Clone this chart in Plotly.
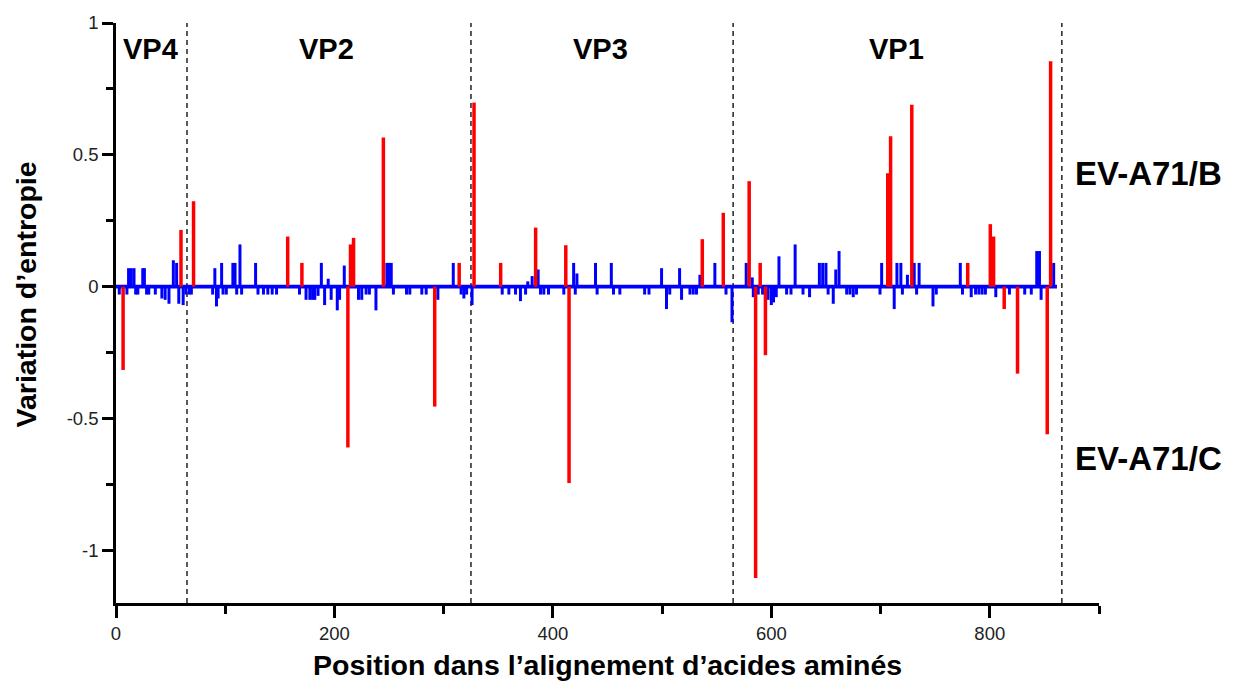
import plotly.graph_objects as go

# ---------------- data ----------------
blue_pos = [3, 10, 11.5, 14, 16.5, 18, 20, 24.5, 26, 28, 30, 36, 42, 45, 48.5, 52.5, 55.5, 57.5,
            61.5, 64, 67, 69, 88.5, 90.5, 92, 93.5, 96.7, 98, 101, 107, 109, 110.5, 113.5, 115,
            127.8, 130, 135, 139, 143, 147, 168, 174, 177.5, 180, 182, 185, 188, 191, 194.3, 197,
            202.6, 204.7, 209, 222, 225, 229, 232, 238, 248, 250, 252, 254, 266, 269, 280, 284,
            294.7, 308.8, 316, 318.5, 321, 326, 353.6, 359.7, 365.8, 370.3, 375, 377, 381, 386.5,
            388.7, 391.7, 396, 410, 419, 420.5, 422, 439, 440.5, 453.5, 455.5, 461.3, 484, 488,
            499.5, 504, 507, 516, 517.8, 525.5, 528.5, 531.5, 534.6, 548.3, 558.5, 564, 577, 582.5,
            583.5, 588, 592, 597, 600, 602, 604.5, 607, 614, 618, 621.8, 629, 635, 644, 647, 650,
            652, 656.7, 659, 662, 669, 672, 675, 678, 699.5, 701, 712.5, 715, 718.6, 720, 724.6,
            730.8, 733, 735.3, 748, 751, 773, 775, 783, 787, 790, 793, 796, 805.5, 818, 832, 838,
            843, 845.5, 847, 858.5]
blue_val = [-0.03, -0.03, 0.07, 0.07, 0.07, -0.03, -0.03, 0.07, 0.07, -0.03, -0.03, -0.03, -0.045,
            -0.05, -0.065, 0.10, 0.09, -0.065, -0.07, -0.03, -0.03, -0.03, -0.03, 0.07, -0.075,
            -0.045, 0.09, -0.03, -0.03, 0.09, 0.09, -0.03, 0.16, -0.03, 0.09, -0.03, -0.03, -0.03,
            -0.03, -0.03, -0.03, -0.05, -0.05, -0.05, -0.05, -0.035, 0.09, -0.07, 0.03, -0.05,
            -0.09, -0.05, 0.08, -0.05, -0.05, -0.03, -0.03, -0.09, 0.09, 0.09, 0.09, -0.03, -0.03,
            -0.03, -0.03, -0.03, -0.05, 0.09, -0.03, -0.045, -0.03, -0.07, -0.03, -0.03, -0.03,
            -0.055, -0.03, 0.02, 0.04, 0.065, -0.03, -0.03, -0.03, -0.03, 0.09, -0.03, 0.05, 0.09,
            -0.03, 0.09, -0.03, -0.03, -0.03, -0.03, 0.07, -0.085, -0.03, 0.07, -0.05, -0.03,
            -0.03, -0.03, 0.045, 0.09, -0.03, -0.135, 0.09, 0.035, -0.04, -0.03, -0.03, -0.05,
            -0.07, -0.06, -0.04, 0.115, -0.03, -0.03, 0.16, -0.03, -0.04, 0.09, 0.09, 0.09, -0.03,
            -0.065, 0.065, 0.135, -0.03, -0.03, -0.04, -0.03, -0.03, 0.09, -0.085, 0.09, 0.09,
            -0.03, 0.045, 0.09, -0.03, 0.09, -0.075, -0.03, 0.09, -0.03, -0.04, -0.03, -0.03,
            -0.03, -0.03, -0.04, -0.03, -0.03, -0.03, 0.135, 0.135, -0.05, 0.09]

red_pos = [6.5, 59.5, 71.0, 157.2, 170.2, 212.3, 214.7, 217.5, 244.8, 291.8, 314.2, 327.8, 352.2,
           384.2, 411.8, 414.8, 536.8, 556.0, 579.7, 585.6, 589.8, 594.6, 706.6, 709.2, 728.6,
           779.8, 800.5, 803.5, 813.2, 825.4, 852.6, 855.7]
red_val = [-0.316, 0.215, 0.324, 0.19, 0.09, -0.61, 0.16, 0.185, 0.566, -0.455, 0.09, 0.698, 0.09,
           0.224, 0.157, -0.745, 0.18, 0.28, 0.40, -1.105, 0.09, -0.26, 0.43, 0.57, 0.69, 0.09,
           0.237, 0.19, -0.085, -0.33, -0.56, 0.855]

baseline_x = [0, 861.5]
baseline_y = [0, 0]

region_bounds = [65, 325, 565, 866]
region_names = ["VP4", "VP2", "VP3", "VP1"]
region_label_x = [32, 193, 444, 715]

x_tick_vals = [0, 200, 400, 600, 800]
x_tick_text = ["0", "200", "400", "600", "800"]
x_minor_vals = [100, 300, 500, 700, 900]
y_tick_vals = [1, 0.5, 0, -0.5, -1]
y_tick_text = ["1", "0.5", "0", "-0.5", "-1"]
y_minor_vals = [0.75, 0.25, -0.25, -0.75]

group_labels = ["EV-A71/B", "EV-A71/C"]
group_label_y = [0.43, -0.65]

x_title = "Position dans l\u2019alignement d\u2019acides aminés"
y_title = "Variation d\u2019entropie"


def stems(pos, val):
    xs, ys = [], []
    for p, v in zip(pos, val):
        xs += [p, p, None]
        ys += [0, v, None]
    return xs, ys


FONT = "Liberation Sans, Arial, sans-serif"
BLUE = "#0000ff"
RED = "#ff0000"

fig = go.Figure()
fig.add_trace(go.Scatter(x=baseline_x, y=baseline_y, mode="lines",
                         line=dict(color=BLUE, width=3.8), hoverinfo="skip", showlegend=False))
bx, by = stems(blue_pos, blue_val)
fig.add_trace(go.Scatter(x=bx, y=by, mode="lines", line=dict(color=BLUE, width=3),
                         showlegend=False))
rx, ry = stems(red_pos, red_val)
fig.add_trace(go.Scatter(x=rx, y=ry, mode="lines", line=dict(color=RED, width=3.5),
                         showlegend=False))

for b in region_bounds:
    fig.add_shape(type="line", xref="x", yref="y", x0=b, x1=b, y0=-1.2, y1=1.0,
                  line=dict(color="black", width=1.3, dash="5px,4px"), layer="below")

for name, lx in zip(region_names, region_label_x):
    fig.add_annotation(x=lx, y=0.9, xref="x", yref="y", text="<b>%s</b>" % name,
                       showarrow=False, font=dict(family=FONT, size=29, color="black"))

for lab, ly in zip(group_labels, group_label_y):
    fig.add_annotation(x=1.05, y=ly, xref="paper", yref="y", text="<b>%s</b>" % lab,
                       showarrow=False, xanchor="center",
                       font=dict(family=FONT, size=33, color="black"))

fig.add_annotation(x=0.5, y=0, xref="paper", yref="paper", text="<b>%s</b>" % x_title,
                   showarrow=False, yanchor="middle", yshift=-62,
                   font=dict(family=FONT, size=28.5, color="black"))
fig.add_annotation(x=0, y=0.532, xref="paper", yref="paper", text="<b>%s</b>" % y_title,
                   showarrow=False, textangle=-90, xanchor="center", yanchor="middle",
                   xshift=-90, font=dict(family=FONT, size=28.5, color="black"))

fig.update_layout(
    width=1233, height=684,
    margin=dict(l=116, r=134, t=18, b=81),
    paper_bgcolor="white", plot_bgcolor="white",
    showlegend=False,
    font=dict(family=FONT, color="#222"),
    xaxis=dict(range=[0, 900], showgrid=False, zeroline=False, showline=True,
               linecolor="black", linewidth=2.5, ticks="outside", ticklen=12, tickwidth=2.5,
               tickcolor="black", tickvals=x_tick_vals, ticktext=x_tick_text,
               tickfont=dict(family=FONT, size=18.5, color="#222"),
               minor=dict(tickvals=x_minor_vals, ticks="outside", ticklen=8, tickwidth=2.5,
                          tickcolor="black", showgrid=False)),
    yaxis=dict(range=[-1.2, 1], showgrid=False, zeroline=False, showline=True,
               linecolor="black", linewidth=2.5, ticks="outside", ticklen=11, tickwidth=2.5,
               tickcolor="black", tickvals=y_tick_vals, ticktext=y_tick_text,
               tickfont=dict(family=FONT, size=18.5, color="#222"),
               minor=dict(tickvals=y_minor_vals, ticks="outside", ticklen=7, tickwidth=2.5,
                          tickcolor="black", showgrid=False)),
)

fig.write_html("out.html", config={"displayModeBar": False},
               post_script="document.body.style.margin='0';document.body.style.overflow='hidden';")
